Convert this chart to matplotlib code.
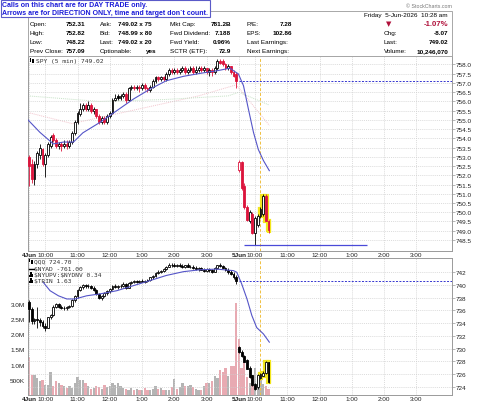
import numpy as np
import matplotlib
matplotlib.use("Agg")
import matplotlib.pyplot as plt
from matplotlib.patches import Rectangle
from matplotlib.lines import Line2D

plt.rcParams["font.family"] = ["Liberation Sans", "DejaVu Sans"]

# ---- SPY 5 min bars (4 Jun: bars 0-77, 5 Jun: bars 78-89) ----
spy_open = [753.0, 752.6, 751.8, 752.6, 753.1, 753.4, 752.6, 753.1, 753.6, 754.2,
            753.9, 753.6, 753.7, 753.6, 753.7, 753.6, 753.8, 754.3, 754.9, 755.3,
            755.6, 755.8, 755.6, 755.8, 755.5, 755.6, 755.2, 754.9, 755.1, 754.9,
            755.2, 755.4, 756.1, 756.3, 756.2, 756.3, 756.4, 756.1, 756.7, 756.8,
            756.7, 756.8, 756.7, 756.9, 756.7, 756.6, 756.8, 757.1, 757.3, 757.2,
            757.3, 757.2, 757.5, 757.7, 757.6, 757.7, 757.6, 757.7, 757.8, 757.6,
            757.7, 757.8, 757.6, 757.7, 757.8, 757.7, 757.8, 757.6, 757.7, 757.6,
            757.8, 758.2, 758.2, 758.0, 757.8, 757.9, 757.6, 757.5,
            752.31, 752.7, 751.4, 750.3, 749.5, 749.9, 748.9, 749.3, 749.8, 749.9, 750.9, 749.5]
spy_high = [753.1, 752.9, 752.8, 753.3, 753.7, 753.5, 753.2, 753.8, 754.2, 754.3,
            754.0, 753.8, 753.8, 753.9, 753.9, 753.9, 754.4, 755.0, 755.5, 755.9,
            755.9, 755.9, 756.0, 755.9, 755.7, 755.6, 755.3, 755.2, 755.2, 755.3,
            755.5, 756.2, 756.4, 756.4, 756.4, 756.5, 756.5, 756.8, 756.9, 756.9,
            756.9, 756.9, 757.0, 757.0, 756.8, 756.9, 757.2, 757.4, 757.4, 757.4,
            757.4, 757.6, 757.8, 757.8, 757.8, 757.8, 757.8, 757.9, 757.9, 757.8,
            757.9, 757.9, 757.9, 757.9, 757.9, 757.9, 757.8, 757.8, 757.8, 757.9,
            758.3, 758.3, 758.3, 758.1, 758.0, 757.9, 757.7, 757.6,
            752.82, 752.75, 751.6, 750.4, 750.1, 750.0, 749.8, 749.9, 750.3, 751.0, 751.0, 749.6]
spy_low = [751.4, 751.6, 751.5, 752.4, 752.9, 752.5, 751.9, 753.0, 753.5, 753.8,
           753.5, 753.4, 753.3, 753.5, 753.4, 753.5, 753.7, 754.2, 754.8, 755.2,
           755.5, 755.5, 755.5, 755.4, 755.3, 755.1, 754.8, 754.8, 754.8, 754.8,
           755.1, 755.3, 756.0, 756.1, 756.1, 756.2, 755.9, 756.0, 756.6, 756.6,
           756.6, 756.5, 756.6, 756.6, 756.5, 756.5, 756.7, 757.0, 757.1, 757.1,
           757.1, 757.1, 757.4, 757.5, 757.5, 757.5, 757.5, 757.6, 757.5, 757.5,
           757.6, 757.5, 757.5, 757.6, 757.6, 757.6, 757.5, 757.4, 757.4, 757.5,
           757.7, 758.0, 757.9, 757.7, 757.7, 757.5, 757.3, 756.7,
           752.2, 751.2, 750.2, 749.5, 749.4, 748.8, 748.22, 749.2, 749.7, 749.8, 749.5, 748.9]
spy_close = [752.5, 751.8, 752.6, 753.2, 753.5, 752.6, 753.1, 753.7, 754.1, 753.9,
             753.6, 753.7, 753.6, 753.7, 753.6, 753.8, 754.3, 754.9, 755.4, 755.6,
             755.8, 755.6, 755.8, 755.5, 755.6, 755.2, 754.9, 755.1, 754.9, 755.2,
             755.4, 756.1, 756.2, 756.2, 756.3, 756.4, 756.1, 756.7, 756.8, 756.7,
             756.8, 756.7, 756.9, 756.7, 756.6, 756.8, 757.1, 757.3, 757.2, 757.3,
             757.2, 757.5, 757.7, 757.6, 757.7, 757.6, 757.7, 757.8, 757.6, 757.7,
             757.8, 757.6, 757.7, 757.8, 757.7, 757.8, 757.6, 757.7, 757.6, 757.8,
             758.2, 758.1, 758.0, 757.8, 757.9, 757.6, 757.4, 757.09,
             752.7, 751.3, 750.3, 749.6, 750.0, 748.9, 749.7, 749.8, 750.2, 750.9, 749.5, 749.02]
spy_prev_first = 753.2
spy_prev_close = 757.09
spy_day_low = 748.22

# moving averages (bar index, value)
spy_ma_x = [-0.4, 4, 9, 12.8, 16.5, 20, 26.4, 32.6, 38.8, 45, 51, 57.4, 63.6, 69.8, 74.7,
            76, 77.8, 79.7, 81.5, 83.4, 85.2, 87.1, 89.3]
spy_ma_y = [755.0, 754.33, 753.7, 753.8, 753.8, 754.3, 754.87, 755.5, 756.13, 756.67, 757.12,
            757.36, 757.52, 757.66, 757.8, 757.66, 757.49, 756.85, 755.6, 754.33, 753.4, 752.8, 752.25]
spy_ma2_x = [-0.4, 16, 38, 63, 77, 89.3]
spy_ma2_y = [755.4, 754.8, 755.5, 756.3, 756.9, 754.7]
spy_ma3_x = [-0.4, 26, 50, 74, 78, 89.3]
spy_ma3_y = [756.3, 756.0, 756.1, 756.3, 756.5, 755.8]

# ---- QQQ 5 min bars ----
qqq_open = [737.3, 736.2, 734.3, 734.6, 734.5, 734.2, 733.6, 733.3, 734.9, 735.2,
            736.6, 737.0, 736.6, 736.4, 736.3, 736.5, 736.7, 737.6, 738.2, 739.2,
            739.7, 740.0, 739.8, 739.9, 739.5, 739.2, 738.6, 738.0, 738.3, 738.7,
            739.0, 739.4, 739.8, 739.7, 739.9, 739.8, 740.2, 739.6, 740.3, 740.5,
            740.6, 740.4, 740.7, 740.5, 740.6, 740.8, 741.2, 741.4, 741.9, 742.1,
            742.2, 742.5, 742.9, 743.2, 743.1, 743.0, 743.2, 743.0, 742.9, 743.1,
            742.9, 742.8, 742.7, 742.5, 742.6, 742.4, 742.2, 742.5, 742.3, 742.1,
            742.6, 743.1, 743.0, 742.7, 742.4, 742.0, 741.8, 741.2,
            730.2, 729.5, 728.8, 728.2, 727.0, 725.8, 724.4, 724.0, 725.4, 725.7, 726.1, 727.8]
qqq_high = [737.6, 736.6, 734.8, 736.6, 734.8, 734.5, 734.0, 735.0, 735.4, 736.8,
            737.2, 737.1, 736.9, 736.7, 736.7, 736.9, 737.8, 738.5, 739.4, 739.9,
            740.2, 740.2, 740.1, 740.0, 739.8, 739.4, 738.8, 738.5, 738.9, 739.2,
            739.6, 740.0, 740.1, 740.0, 740.2, 740.4, 740.3, 740.4, 740.7, 740.8,
            740.8, 740.8, 740.9, 740.8, 740.9, 741.3, 741.6, 742.0, 742.3, 742.4,
            742.7, 743.0, 743.4, 743.5, 743.4, 743.3, 743.4, 743.3, 743.2, 743.4,
            743.1, 743.1, 743.0, 742.8, 742.9, 742.7, 742.6, 742.7, 742.5, 742.8,
            743.2, 743.4, 743.2, 742.9, 742.6, 742.3, 742.0, 741.5,
            730.4, 729.7, 729.0, 728.4, 727.3, 725.9, 724.6, 726.0, 726.1, 726.4, 728.0, 727.9]
qqq_low = [734.2, 733.8, 733.9, 733.3, 733.6, 733.2, 732.8, 733.2, 734.6, 735.1,
           736.4, 736.4, 736.2, 736.0, 736.1, 736.3, 736.6, 737.4, 738.0, 739.0,
           739.4, 739.6, 739.5, 739.3, 739.0, 738.4, 737.8, 737.6, 738.1, 738.5,
           738.8, 739.2, 739.5, 739.4, 739.6, 739.7, 739.3, 739.5, 740.1, 740.3,
           740.3, 740.3, 740.4, 740.3, 740.4, 740.7, 741.0, 741.3, 741.7, 741.9,
           742.0, 742.4, 742.8, 742.9, 742.8, 742.8, 742.9, 742.7, 742.7, 742.8,
           742.6, 742.5, 742.3, 742.2, 742.3, 742.0, 742.0, 742.1, 741.9, 742.0,
           742.5, 742.8, 742.6, 742.2, 741.8, 741.6, 741.0, 740.2,
           729.3, 728.6, 727.8, 726.7, 725.4, 724.1, 723.5, 723.6, 725.2, 725.6, 726.0, 724.5]
qqq_close = [736.2, 734.3, 734.6, 734.5, 734.2, 733.6, 733.3, 734.9, 735.2, 736.6,
             737.0, 736.6, 736.4, 736.3, 736.5, 736.7, 737.6, 738.2, 739.2, 739.7,
             740.0, 739.8, 739.9, 739.5, 739.2, 738.6, 738.0, 738.3, 738.7, 739.0,
             739.4, 739.8, 739.7, 739.9, 739.8, 740.2, 739.6, 740.3, 740.5, 740.6,
             740.4, 740.7, 740.5, 740.6, 740.8, 741.2, 741.4, 741.9, 742.1, 742.2,
             742.5, 742.9, 743.2, 743.1, 743.0, 743.2, 743.0, 742.9, 743.1, 742.9,
             742.8, 742.7, 742.5, 742.6, 742.4, 742.2, 742.5, 742.3, 742.1, 742.6,
             743.1, 743.0, 742.7, 742.4, 742.0, 741.8, 741.2, 740.6,
             729.5, 728.8, 727.9, 726.8, 725.5, 724.2, 723.7, 725.9, 726.0, 726.2, 727.9, 724.7]
qqq_prev_close = 740.6
qqq_ma_x = [5.3, 7.8, 10.9, 14, 17.1, 21.4, 26.4, 32.6, 38.8, 45, 51, 57.4, 63.6, 69.8, 76,
            77.2, 79, 81, 82.8, 84.6, 87.1, 89.3]
qqq_ma_y = [740.4, 739.1, 738.3, 737.8, 737.8, 738.3, 738.6, 739.1, 739.9, 740.7, 741.5,
            742.1, 742.4, 742.5, 742.26, 742.0, 740.2, 737.8, 735.2, 733.3, 732.3, 731.0]

# volume, millions
volume = [1.25, 0.66, 0.66, 0.55, 0.45, 0.50, 0.34, 0.34, 0.77, 0.30,
          0.45, 0.39, 0.34, 0.28, 0.23, 0.28, 0.23, 0.39, 0.59, 0.50,
          0.48, 0.39, 0.28, 0.21, 0.23, 0.28, 0.26, 0.21, 0.34, 0.26,
          0.30, 0.39, 0.34, 0.39, 0.30, 0.23, 0.19, 0.15, 0.23, 0.17,
          0.19, 0.17, 0.15, 0.23, 0.15, 0.17, 0.19, 0.28, 0.19, 0.23,
          0.15, 0.15, 0.17, 0.26, 0.52, 0.19, 0.26, 0.41, 0.28, 0.30,
          0.34, 0.26, 0.19, 0.17, 0.17, 0.30, 0.39, 0.41, 0.45, 0.61,
          0.56, 0.83, 0.77, 0.90, 0.62, 0.96, 0.96, 3.02,
          1.85, 0.90, 1.07, 0.60, 0.40, 0.60, 0.90, 0.63, 0.50, 0.35, 0.30, 0.20]

tick_pos = [0, 6, 18, 30, 42, 54, 66, 78, 84, 96, 108, 120, 132, 144]
tick_lab = ["4Jun", "10:00", "11:00", "12:00", "1:00", "2:00", "3:00",
            "5Jun", "10:00", "11:00", "12:00", "1:00", "2:00", "3:00"]
vol_ticks = [0.5, 1.0, 1.5, 2.0, 2.5, 3.0]
vol_labels = ["500K", "1.0M", "1.5M", "2.0M", "2.5M", "3.0M"]

RED = "#dc143c"
YEL = "#f2e61c"
BLUE = "#5555c8"
GRID = "#cfcfcf"
W, H = 480, 406
highlight = [86, 87, 88, 89]
vline_x = 85.8


def px(x, y):
    return x / W, 1 - y / H


def candles(ax, o, h, l, c, prev, colored):
    for i in range(len(c)):
        pc = prev if i == 0 else c[i - 1]
        col = RED if (colored and c[i] < pc) else "black"
        lo, hi = min(o[i], c[i]), max(o[i], c[i])
        body = max(hi - lo, 0.03)
        if i in highlight:
            ax.vlines(i, l[i], h[i], color=YEL, lw=3, zorder=2)
            ax.add_patch(Rectangle((i - 0.35, lo), 0.7, body, fc=YEL, ec=YEL, lw=3, zorder=2))
        ax.vlines(i, l[i], h[i], color=col, lw=0.6, zorder=3)
        fc = "white" if c[i] >= o[i] else col
        ax.add_patch(Rectangle((i - 0.35, lo), 0.7, body, fc=fc, ec=col, lw=0.6, zorder=4))


def icon(x, y, kind):
    # tiny legend glyphs, pixel positions (x left, y centre)
    if kind == "line":
        fig.add_artist(Line2D([x / W, (x + 5) / W], [1 - y / H] * 2, color="black", lw=1.0))
        return
    if kind == "candle":
        parts = [(0, -2.5, 1.6, 3.5), (2.6, -1.5, 1.6, 4.0)]
    else:
        parts = [(0, 0, 1.3, 2.0), (1.8, -2.5, 1.3, 4.5), (3.6, -0.8, 1.3, 2.8)]
    for dx, dy, w, hh in parts:
        fig.add_artist(Rectangle(((x + dx) / W, 1 - (y + dy + hh) / H), w / W, hh / H,
                                 fc="black", ec="none"))


def style_axes(ax):
    for s in ax.spines.values():
        s.set_color("#9a9a9a")
        s.set_linewidth(0.7)
    ax.set_xlim(-0.4, 157.2)
    ax.set_xticks(tick_pos)
    ax.set_xticklabels(tick_lab, fontsize=4.6, color="#222222")
    for t, lab in zip(ax.get_xticklabels(), tick_lab):
        if "Jun" in lab:
            t.set_fontweight("bold")
    ax.tick_params(axis="x", length=0, pad=1)
    ax.grid(axis="x", color=GRID, lw=0.5, ls=(0, (1.5, 1.5)), zorder=0)


fig = plt.figure(figsize=(4.8, 4.06), dpi=100)

# ---- top panel: SPY ----
ax1 = fig.add_axes([28 / W, 1 - 252 / H, 424 / W, 195 / H])
style_axes(ax1)
ax1.set_ylim(747.9, 758.46)
ax1.yaxis.tick_right()
yt = np.arange(748.5, 758.01, 0.5)
ax1.set_yticks(yt)
ax1.set_yticklabels(["%.1f" % v for v in yt], fontsize=4.6, color="#222222")
ax1.tick_params(axis="y", length=2, width=0.5, pad=1, color="#9a9a9a")
ax1.grid(axis="y", color=GRID, lw=0.5, ls=(0, (1.5, 1.5)), zorder=0)

ax1.plot(spy_ma2_x, spy_ma2_y, color="#f2c4cc", lw=0.7, ls=(0, (1, 1)), zorder=1)
ax1.plot(spy_ma3_x, spy_ma3_y, color="#c6e2c6", lw=0.7, ls=(0, (1, 1)), zorder=1)
candles(ax1, spy_open, spy_high, spy_low, spy_close, spy_prev_first, True)
ax1.plot(spy_ma_x, spy_ma_y, color=BLUE, lw=0.8, zorder=5)
ax1.hlines(spy_prev_close, 78, 157.2, color="#3535d0", lw=0.7, ls=(0, (2, 1.5)), zorder=5)
ax1.hlines(spy_day_low, 80, 125.6, color="#4a4ad8", lw=0.9, zorder=5)
ax1.axvline(vline_x, color="#f0c040", lw=0.7, ls=(0, (3, 2)), zorder=1)
icon(29.5, 61.5, "candle")
fig.text(*px(36.5, 61.5), "SPY (5 min) 749.02", fontsize=4.5, family="DejaVu Sans Mono",
         color="#333333", va="center")

# ---- bottom panel: volume + QQQ ----
ax2 = fig.add_axes([28 / W, 1 - 396 / H, 424 / W, 137 / H])
style_axes(ax2)
ax2.set_ylim(0, 4.5)
vcol = []
for i in range(len(volume)):
    pc = spy_prev_first if i == 0 else spy_close[i - 1]
    vcol.append("#e8aab2" if spy_close[i] < pc else "#b4b4b4")
ax2.bar(range(len(volume)), volume, width=0.85, color=vcol, zorder=1)
ax2.set_yticks(vol_ticks)
ax2.set_yticklabels(vol_labels, fontsize=4.6, color="#222222")
ax2.tick_params(axis="y", length=0, pad=2)

ax3 = ax2.twinx()
for s in ax3.spines.values():
    s.set_visible(False)
ax3.set_ylim(722.68, 744.25)
qt = np.arange(724, 743, 2)
ax3.set_yticks(qt)
ax3.set_yticklabels(["%d" % v for v in qt], fontsize=4.6, color="#222222")
ax3.tick_params(axis="y", length=2, width=0.5, pad=1, color="#9a9a9a")
ax3.grid(axis="y", color=GRID, lw=0.5, ls=(0, (1.5, 1.5)), zorder=0)
candles(ax3, qqq_open, qqq_high, qqq_low, qqq_close, 737.5, False)
ax3.plot(qqq_ma_x, qqq_ma_y, color=BLUE, lw=0.8, zorder=5)
ax3.hlines(qqq_prev_close, 78, 157.2, color="#3535d0", lw=0.7, ls=(0, (2, 1.5)), zorder=5)
ax3.axvline(vline_x, color="#f0c040", lw=0.7, ls=(0, (3, 2)), zorder=1)
ax3.set_xlim(-0.4, 157.2)

leg = [("candle", "QQQ 724.70", 262.3), ("line", r"\$NYAD -761.00", 269.5),
       ("bars", r"\$NYUPV:\$NYDNV 0.34", 275.7), ("bars", r"\$TRIN 1.63", 281.5)]
for kind, txt, yy in leg:
    icon(28.5, yy, kind)
    fig.text(*px(34.5, yy), txt, fontsize=4.5, family="DejaVu Sans Mono", color="#333333",
             va="center")

# ---- header / info box ----
fig.add_artist(Rectangle(px(27.5, 57), 424.5 / W, 45 / H, fill=False, ec="#a8a8a8", lw=0.7))
fig.add_artist(Rectangle(px(0.5, 17.5), 209.5 / W, 17 / H, fc="white", ec="#5a5ac8", lw=0.8))
fig.text(*px(2.5, 5.8), "Calls on this chart are for DAY TRADE only.", fontsize=5.0,
         fontweight="bold", color="#1a1ad8", va="center")
fig.text(*px(2.5, 13.3), "Arrows are for DIRECTION ONLY, time and target don`t count.", fontsize=5.0,
         fontweight="bold", color="#1a1ad8", va="center")
fig.text(*px(452, 6.5), "\u00a9 StockCharts.com", fontsize=3.8, color="#777777", ha="right", va="center")

rows = [24.3, 33.3, 42.3, 51.3]
fs = 4.6
col1 = [("Open:", "752.31"), ("High:", "752.82"), ("Low:", "748.22"), ("Prev Close:", "757.09")]
col2 = [("Ask:", "749.02 x 75"), ("Bid:", "748.99 x 80"), ("Last:", "749.02 x 20"), ("Optionable:", "yes")]
col3 = [("Mkt Cap:", "781.2B"), ("Fwd Dividend:", "7.188"), ("Fwd Yield:", "0.96%"), ("SCTR (ETF):", "72.9")]
col4 = [("P/E:", "7.28"), ("EPS:", "102.86"), ("Last Earnings:", ""), ("Next Earnings:", "")]
for yy, (a, b) in zip(rows, col1):
    fig.text(*px(29.5, yy), a, fontsize=fs, va="center")
    fig.text(*px(85, yy), b, fontsize=fs, fontweight="bold", ha="right", va="center")
for yy, (a, b) in zip(rows, col2):
    fig.text(*px(100, yy), a, fontsize=fs, va="center")
    if b == "yes":
        fig.text(*px(157, yy), b, fontsize=fs, fontweight="bold", ha="right", va="center")
    else:
        fig.text(*px(117.5, yy), b, fontsize=fs, fontweight="bold", va="center")
for yy, (a, b) in zip(rows, col3):
    fig.text(*px(170.5, yy), a, fontsize=fs, va="center")
    fig.text(*px(231, yy), b, fontsize=fs, fontweight="bold", ha="right", va="center")
for yy, (a, b) in zip(rows, col4):
    fig.text(*px(247, yy), a, fontsize=fs, va="center")
    if b:
        fig.text(*px(292, yy), b, fontsize=fs, fontweight="bold", ha="right", va="center")

fig.text(*px(448, 15.7), "Friday  5-Jun-2026  10:28 am", fontsize=fs, ha="right", va="center")
fig.text(*px(389, 24.3), "\u25bc", fontsize=5, family="DejaVu Sans", color="#b0103a", ha="center", va="center")
fig.text(*px(448, 24.3), "-1.07%", fontsize=5.6, fontweight="bold", color="#b0103a", ha="right", va="center")
fig.text(*px(384, 33.3), "Chg:", fontsize=fs, va="center")
fig.text(*px(448, 33.3), "-8.07", fontsize=fs, fontweight="bold", ha="right", va="center")
fig.text(*px(384, 42.3), "Last:", fontsize=fs, va="center")
fig.text(*px(448, 42.3), "749.02", fontsize=fs, fontweight="bold", ha="right", va="center")
fig.text(*px(384, 51.3), "Volume:", fontsize=fs, va="center")
fig.text(*px(448, 51.3), "10,246,070", fontsize=fs, fontweight="bold", ha="right", va="center")

fig.savefig("out.png", dpi=100)
